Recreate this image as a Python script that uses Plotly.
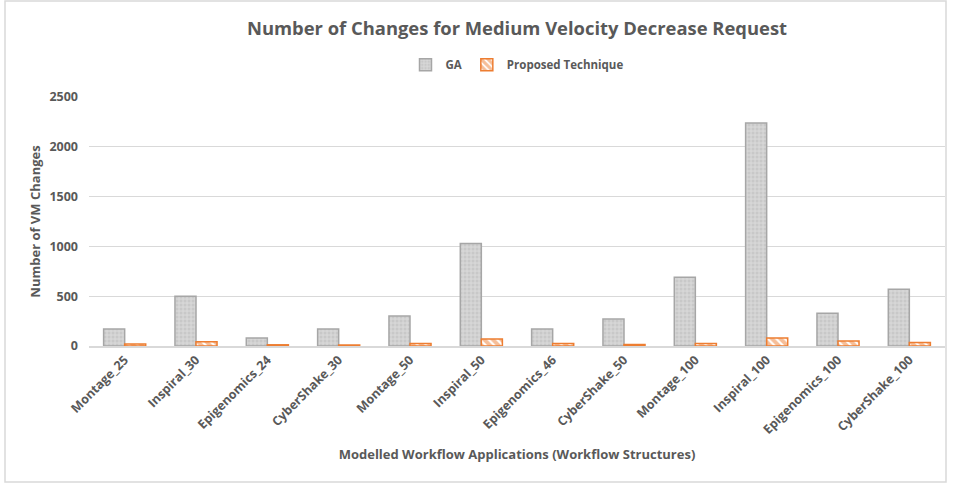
import plotly.graph_objects as go

categories = ['Montage_25', 'Inspiral_30', 'Epigenomics_24', 'CyberShake_30', 'Montage_50', 'Inspiral_50',
              'Epigenomics_46', 'CyberShake_50', 'Montage_100', 'Inspiral_100', 'Epigenomics_100', 'CyberShake_100']
ga_values = [170, 500, 80, 170, 300, 1030, 170, 270, 690, 2240, 330, 570]
proposed_values = [20, 42, 12, 10, 25, 70, 25, 15, 25, 80, 50, 35]
y_ticks = [0, 500, 1000, 1500, 2000, 2500]

font_family = 'Open Sans, Lato, sans-serif'
grey_text = '#595959'

fig = go.Figure()
fig.add_trace(go.Bar(x=categories, y=ga_values, name='<b>GA</b>',
                     marker=dict(color='#d9d9d9', line=dict(color='#a6a6a6', width=1.5),
                                 pattern=dict(shape='+', fgcolor='#f2f2f2', bgcolor='#c8c8c8', size=4, solidity=0.4))))
fig.add_trace(go.Bar(x=categories, y=proposed_values, name='<b>Proposed Technique</b>',
                     marker=dict(color='#ed7d31', line=dict(color='#ed7d31', width=1.5),
                                 pattern=dict(shape='\\', fgcolor='#ed7d31', bgcolor='#ffffff', size=6, solidity=0.65))))

fig.update_layout(
    width=953, height=484,
    margin=dict(l=89, r=8, t=97, b=138, autoexpand=False),
    paper_bgcolor='white', plot_bgcolor='white',
    font=dict(family=font_family, color=grey_text, size=11),
    title=dict(text='<b>Number of Changes for Medium Velocity Decrease Request</b>', x=0.5, xref='paper',
               y=0.942, yref='container', yanchor='middle', font=dict(size=18.4, color=grey_text, family=font_family)),
    legend=dict(orientation='h', x=0.5, xanchor='center', y=0.866, yref='container', yanchor='middle',
                font=dict(size=11.5, color=grey_text), itemwidth=30, traceorder='normal'),
    barmode='group', bargap=0.41, bargroupgap=0,
    showlegend=True,
)
fig.update_xaxes(tickangle=-45, tickvals=categories, ticktext=['<b>' + c + '</b>' for c in categories],
                 tickfont=dict(size=12.5, color=grey_text, family=font_family), automargin=False,
                 showline=True, linecolor='#d9d9d9', linewidth=1.5, ticks='',
                 title=dict(text='<b>Modelled Workflow Applications (Workflow Structures)</b>',
                            font=dict(size=13, color=grey_text), standoff=13))
fig.update_yaxes(range=[0, 2500], tickvals=y_ticks, ticktext=['<b>%d</b>' % t for t in y_ticks],
                 showgrid=True, gridcolor='#d9d9d9', gridwidth=1, automargin=False,
                 zeroline=False, showline=False, ticks='', ticklabelstandoff=10,
                 tickfont=dict(size=12.5, color=grey_text, family=font_family),
                 title=dict(text='<b>Number of VM Changes</b>', font=dict(size=13, color=grey_text), standoff=5))

# chart area border like the original
fig.add_shape(type='rect', xref='paper', yref='paper',
              x0=(5 - 89) / 856, x1=(946 - 89) / 856, y0=(346 - 482) / 249, y1=(346 - 1) / 249,
              line=dict(color='#d9d9d9', width=1.5), fillcolor='rgba(0,0,0,0)', layer='below')

fig.write_html('out.html', config={'displayModeBar': False},
               post_script="document.body.style.margin='0';")
